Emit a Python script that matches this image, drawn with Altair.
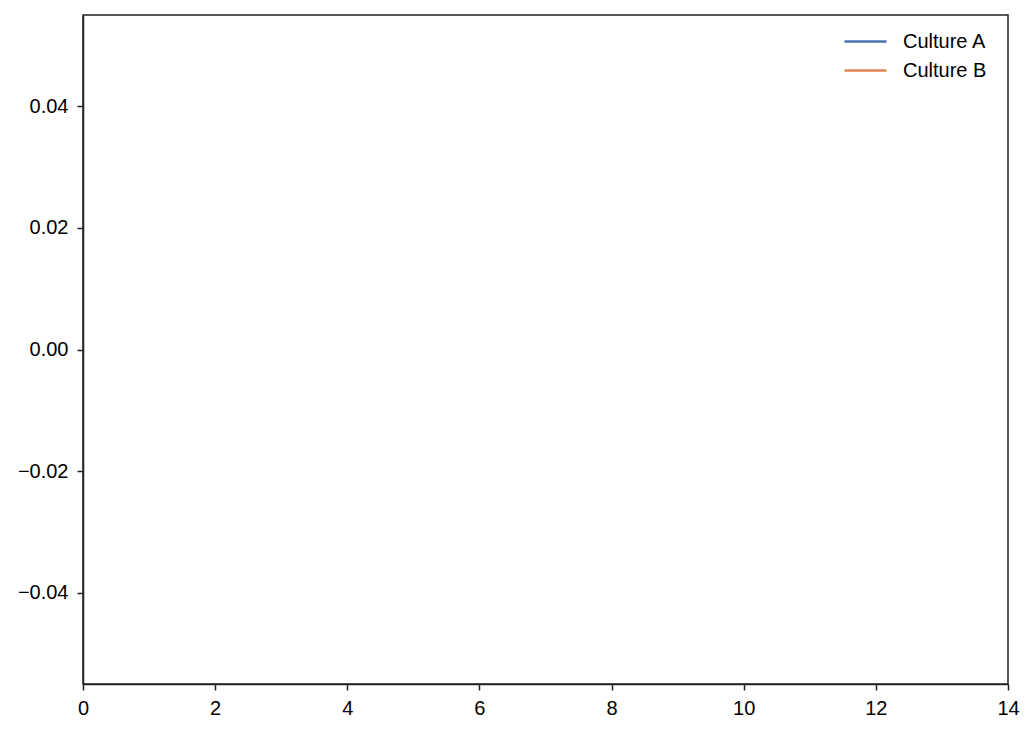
import altair as alt
import pandas as pd

# Data (the reference shows no plotted points, only the legend entries)
cultures = ["Culture A", "Culture B"]
days_a = []
od_a = []
days_b = []
od_b = []
colors = ["#4C72B0", "#DD8452"]
x_ticks = [0, 2, 4, 6, 8, 10, 12, 14]
y_ticks = [-0.04, -0.02, 0.0, 0.02, 0.04]

rows = [{"day": d, "od": v, "culture": cultures[0]} for d, v in zip(days_a, od_a)]
rows += [{"day": d, "od": v, "culture": cultures[1]} for d, v in zip(days_b, od_b)]
df = pd.DataFrame(rows, columns=["day", "od", "culture"])

FONT = "Liberation Sans"
FS = 20

chart = alt.Chart(df).mark_line(strokeWidth=2.5).encode(
    x=alt.X("day:Q",
            scale=alt.Scale(domain=[0, 14], nice=False, zero=False),
            axis=alt.Axis(values=x_ticks, title=None, grid=False, format="d",
                          tickSize=6, labelPadding=8, labelFlush=False)),
    y=alt.Y("od:Q",
            scale=alt.Scale(domain=[-0.055, 0.055], nice=False, zero=False),
            axis=alt.Axis(values=y_ticks, title=None, grid=False, format=".2f",
                          tickSize=6, labelPadding=9, labelFlush=False)),
    color=alt.Color("culture:N",
                    scale=alt.Scale(domain=cultures, range=colors),
                    legend=alt.Legend(title=None, orient="none", legendX=767, legendY=11,
                                      symbolType="M-1.5,0H1.5", symbolSize=784,
                                      symbolStrokeWidth=2.5, labelOffset=22,
                                      labelFontSize=FS, labelFont=FONT,
                                      labelColor="#000000", padding=0,
                                      rowPadding=3)),
).properties(
    width=925,
    height=669,
    background="white",
    autosize=alt.AutoSizeParams(type="none"),
    padding={"left": 75, "top": 7, "right": 19, "bottom": 40},
).configure_axis(
    labelFont=FONT,
    labelFontSize=FS,
    labelColor="#000000",
    domainColor="#222222",
    domainWidth=1.5,
    tickColor="#222222",
    tickWidth=1.5,
).configure_view(
    stroke="#222222",
    strokeWidth=1.5,
)

chart.save("out.html", embed_options={"renderer": "svg", "actions": False})
